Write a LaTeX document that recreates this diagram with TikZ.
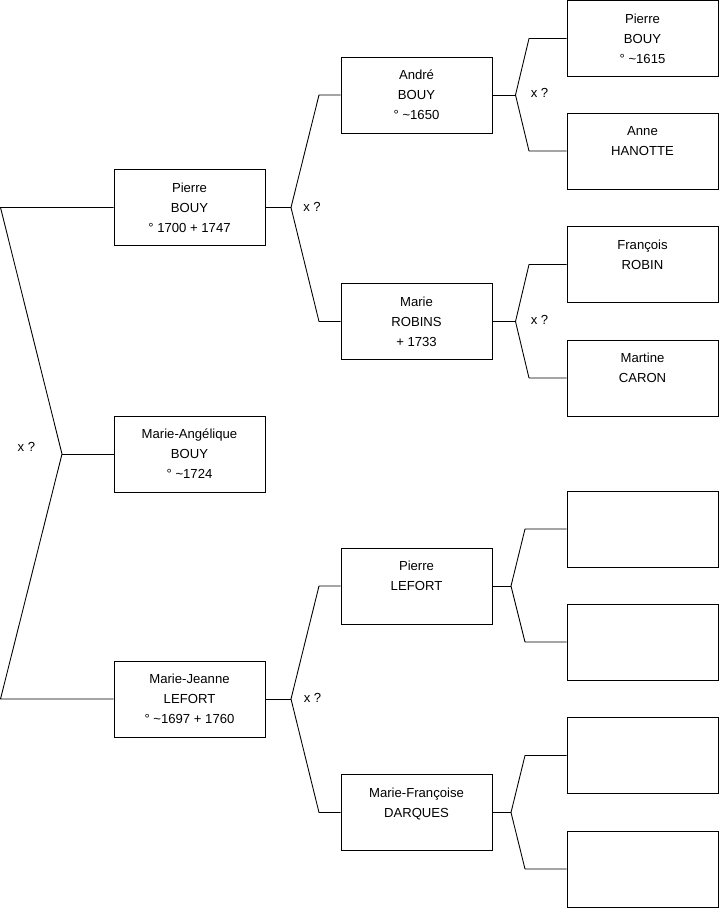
\documentclass[tikz,border=0pt]{standalone}
\usepackage{fontspec}
\setmainfont{Liberation Sans}

\begin{document}
\begin{tikzpicture}[
    x=0.03cm, y=-0.03cm,
    person/.style={draw=black, line width=.75pt,
      minimum width=4.53cm, minimum height=2.28cm, inner sep=0pt,
      align=center, font=\fontsize{11.2}{17}\selectfont},
    link/.style={draw=black, line width=.75pt, line join=round},
    union/.style={font=\fontsize{11.2}{17}\selectfont, inner sep=0pt},
  ]
    \useasboundingbox (0,0) rectangle (719,908);

    % generation 1
    \node[person] (pb1) at (189.5,207.5) {Pierre\\BOUY\\° 1700 + 1747};
    \node[person] (mab) at (189.5,454) {Marie-Angélique\\BOUY\\° \textasciitilde1724};
    \node[person] (mjl) at (189.5,699) {Marie-Jeanne\\LEFORT\\° \textasciitilde1697 + 1760};

    % generation 2
    \node[person] (ab) at (416.5,95) {André\\BOUY\\° \textasciitilde1650};
    \node[person] (mr) at (416.5,321.5) {Marie\\ROBINS\\+ 1733};
    \node[person] (pl) at (416.5,586) {Pierre\\LEFORT\\\phantom{0}};
    \node[person] (mfd) at (416.5,812.5) {Marie-Françoise\\DARQUES\\\phantom{0}};

    % generation 3
    \node[person] (pb2) at (642.5,38.5) {Pierre\\BOUY\\° \textasciitilde1615};
    \node[person] (ah) at (642.5,151) {Anne\\HANOTTE\\\phantom{0}};
    \node[person] (fr) at (642.5,264.5) {François\\ROBIN\\\phantom{0}};
    \node[person] (mc) at (642.5,378) {Martine\\CARON\\\phantom{0}};
    \node[person] (e1) at (642.5,529) {};
    \node[person] (e2) at (642.5,642) {};
    \node[person] (e3) at (642.5,755.5) {};
    \node[person] (e4) at (642.5,869) {};

    % couple of generation 1, child in the middle
    \coordinate (lt) at (0.5,207.5);
    \coordinate (lm) at (62,454);
    \coordinate (lb) at (0.5,699);
    \draw[link] (pb1.west) -- (lt) -- (lm) -- (lb) -- (mjl.west);
    \draw[link] (lm) -- (mab.west);
    \node[union] (u0) at (26.5,447) {x ?};

    % parents of Pierre BOUY
    \coordinate (v1) at (291,207.5);
    \coordinate (v1a) at (319,95);
    \coordinate (v1b) at (319,321.5);
    \draw[link] (pb1.east) -- (v1);
    \draw[link] (ab.west) -- (v1a) -- (v1) -- (v1b) -- (mr.west);
    \node[union] (u1) at (312,207) {x ?};

    % parents of Marie-Jeanne LEFORT
    \coordinate (v2) at (291,699);
    \coordinate (v2a) at (319,586);
    \coordinate (v2b) at (319,812.5);
    \draw[link] (mjl.east) -- (v2);
    \draw[link] (pl.west) -- (v2a) -- (v2) -- (v2b) -- (mfd.west);
    \node[union] (u2) at (312.5,698) {x ?};

    % parents of André BOUY
    \coordinate (v3) at (515.5,95);
    \coordinate (v3a) at (529,38.5);
    \coordinate (v3b) at (529,151);
    \draw[link] (ab.east) -- (v3);
    \draw[link] (pb2.west) -- (v3a) -- (v3) -- (v3b) -- (ah.west);
    \node[union] (u3) at (539.5,93) {x ?};

    % parents of Marie ROBINS
    \coordinate (v4) at (515.5,321.5);
    \coordinate (v4a) at (529,264.5);
    \coordinate (v4b) at (529,378);
    \draw[link] (mr.east) -- (v4);
    \draw[link] (fr.west) -- (v4a) -- (v4) -- (v4b) -- (mc.west);
    \node[union] (u4) at (539.5,320) {x ?};

    % parents of Pierre LEFORT
    \coordinate (v5) at (511,586);
    \coordinate (v5a) at (525,529);
    \coordinate (v5b) at (525,642);
    \draw[link] (pl.east) -- (v5);
    \draw[link] (e1.west) -- (v5a) -- (v5) -- (v5b) -- (e2.west);

    % parents of Marie-Françoise DARQUES
    \coordinate (v6) at (511,812.5);
    \coordinate (v6a) at (525,755.5);
    \coordinate (v6b) at (525,869);
    \draw[link] (mfd.east) -- (v6);
    \draw[link] (e3.west) -- (v6a) -- (v6) -- (v6b) -- (e4.west);
  \end{tikzpicture}
\end{document}
